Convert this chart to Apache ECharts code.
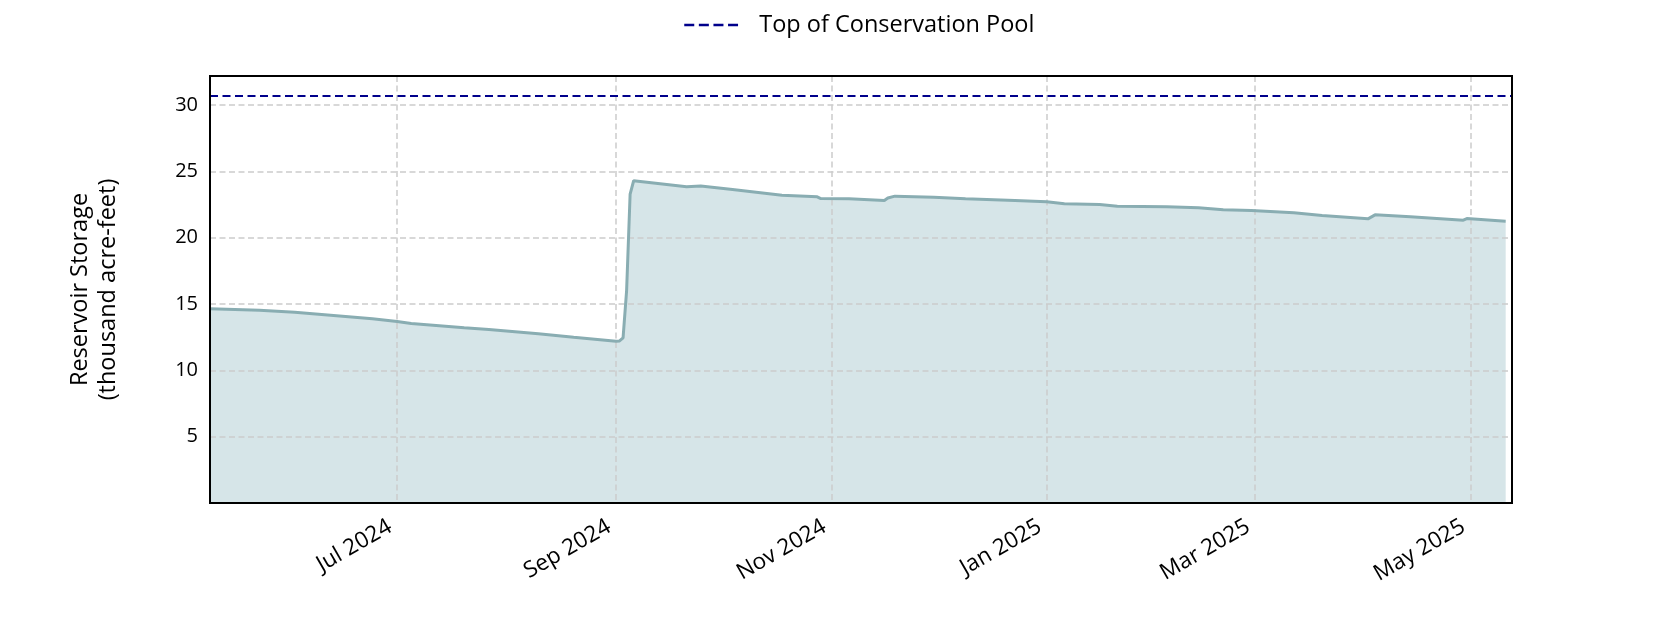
<!DOCTYPE html>
<html>
<head>
<meta charset="utf-8">
<script src="https://cdn.jsdelivr.net/npm/echarts@6/dist/echarts.min.js"></script>
<style>
  html, body { margin: 0; padding: 0; background: #fff; }
  #chart { width: 1680px; height: 630px; }
</style>
</head>
<body>
<div id="chart"></div>
<script>
// ---- data ----
const dates = ['2024-05-09','2024-05-23','2024-06-02','2024-06-13','2024-06-24','2024-07-01','2024-07-05','2024-07-20','2024-07-27','2024-08-10','2024-08-20','2024-08-29','2024-09-01','2024-09-02','2024-09-03','2024-09-04','2024-09-05','2024-09-06','2024-09-21','2024-09-25','2024-10-04','2024-10-18','2024-10-28','2024-10-29','2024-11-06','2024-11-16','2024-11-17','2024-11-19','2024-11-30','2024-12-09','2024-12-23','2025-01-01','2025-01-06','2025-01-16','2025-01-21','2025-02-04','2025-02-13','2025-02-20','2025-02-28','2025-03-12','2025-03-20','2025-04-02','2025-04-04','2025-04-14','2025-04-29','2025-04-30','2025-05-05','2025-05-11'];
const storage = [14.65,14.54,14.39,14.14,13.89,13.69,13.54,13.21,13.08,12.76,12.5,12.28,12.2,12.22,12.45,16.0,23.3,24.3,23.85,23.9,23.64,23.21,23.09,22.96,22.94,22.81,23.0,23.14,23.06,22.94,22.81,22.71,22.56,22.51,22.38,22.34,22.26,22.11,22.06,21.88,21.68,21.43,21.73,21.58,21.33,21.45,21.36,21.25];
const conservationPool = 30.7;
const xStart = '2024-05-09';
const xEnd = '2025-05-12 19:00';
const tickDates = ['2024-07-01','2024-09-01','2024-11-01','2025-01-01','2025-03-01','2025-05-01'];
const tickLabels = ['Jul 2024','Sep 2024','Nov 2024','Jan 2025','Mar 2025','May 2025'];
const yTicks = [5,10,15,20,25,30];

const FONT = '"Open Sans"';
const ts = s => +echarts.time.parse(s);
const tickTs = tickDates.map(ts);
const x0 = ts(xStart), x1 = ts(xEnd);
const gridLine = { color: '#cccccc', width: 1.5, type: [6, 3.5] };
const storagePoints = dates.map((d, i) => [ts(d), storage[i]]);

const chart = echarts.init(document.getElementById('chart'), null, {renderer: 'canvas'});
chart.setOption({
  animation: false,
  backgroundColor: '#ffffff',
  textStyle: { fontFamily: FONT },
  legend: {
    left: 678, top: 8,
    itemWidth: 54, itemHeight: 14,
    itemStyle: { opacity: 0 },
    lineStyle: { width: 2.5, type: [10, 4.6] },
    textStyle: { fontFamily: FONT, fontSize: 23.5, color: '#000', padding: [0,0,0,16] },
    data: ['Top of Conservation Pool']
  },
  grid: {
    left: 210, top: 76, right: 168, bottom: 127, z: 10,
    show: true, borderColor: '#000', borderWidth: 2, backgroundColor: 'transparent',
    containLabel: false
  },
  xAxis: {
    type: 'value',
    min: x0, max: x1, z: 1,
    axisLine: { show: false },
    axisTick: { show: false, customValues: tickTs },
    splitLine: { show: true, lineStyle: gridLine },
    axisLabel: {
      customValues: tickTs,
      rotate: 30, margin: 18, padding: [0, 8, 0, 0],
      fontFamily: FONT, fontSize: 22.5, color: '#000',
      formatter: function (v) {
        const i = tickTs.indexOf(v);
        return i >= 0 ? tickLabels[i] : '';
      }
    }
  },
  yAxis: {
    type: 'value',
    min: 0, max: 32.2, interval: 5, z: 1,
    name: 'Reservoir Storage\n(thousand acre-feet)',
    nameLocation: 'middle', nameGap: 88, nameRotate: 90,
    nameTextStyle: { fontFamily: FONT, fontSize: 23.5, color: '#000', lineHeight: 28 },
    axisLine: { show: false },
    axisTick: { show: false },
    splitLine: { show: true, lineStyle: gridLine },
    axisLabel: {
      margin: 12, fontFamily: FONT, fontSize: 20, color: '#000',
      showMinLabel: false, showMaxLabel: false,
      formatter: function (v) { return yTicks.indexOf(v) >= 0 ? String(v) : ''; }
    }
  },
  series: [
    {
      name: 'Storage fill',
      type: 'line',
      data: storagePoints,
      symbol: 'none',
      lineStyle: { width: 0, opacity: 0 },
      areaStyle: { color: '#d6e5e8', opacity: 1, origin: 'start' },
      silent: true,
      z: 0
    },
    {
      name: 'Storage',
      type: 'line',
      data: storagePoints,
      symbol: 'none',
      lineStyle: { color: '#89adb2', width: 3 },
      itemStyle: { color: '#89adb2' },
      z: 2
    },
    {
      name: 'Top of Conservation Pool',
      type: 'line',
      data: [[x0, conservationPool], [x1, conservationPool]],
      symbol: 'none',
      lineStyle: { color: '#00008b', width: 2, type: [8, 4.5] },
      itemStyle: { color: '#00008b' },
      z: 3
    }
  ]
});
</script>
</body>
</html>
